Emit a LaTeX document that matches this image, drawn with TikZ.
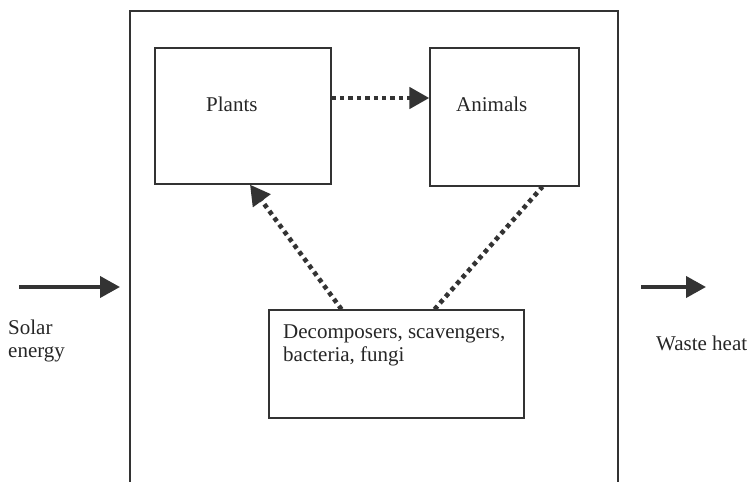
\documentclass[tikz,border=0pt]{standalone}
\usepackage{fontspec}
\setmainfont{Liberation Serif}
\usetikzlibrary{arrows.meta}

\begin{document}
\begin{tikzpicture}[x=1pt,y=-1pt,
  box/.style={draw=black!80,line width=1.3pt,inner sep=0pt},
  flow/.style={-{Triangle[length=20pt,width=21pt]},draw=black!80,line width=4.6pt,dash pattern=on 4.4pt off 4pt},
  link/.style={draw=black!80,line width=4.6pt,dash pattern=on 4.4pt off 4pt},
  energy/.style={-{Triangle[length=20pt,width=21pt]},draw=black!80,line width=4pt},
  label/.style={font=\fontsize{21}{23}\selectfont,text=black!85,inner sep=0pt,anchor=base west,align=left},
]
\useasboundingbox (0,0) rectangle (748,482);
\draw[black!80,line width=1.3pt] (130,482)--(130,11)--(618,11)--(618,482);
\node[box,minimum width=176pt,minimum height=136pt] (plants) at (243,116) {};
\node[box,minimum width=149pt,minimum height=138pt] (animals) at (504.5,117) {};
\node[box,minimum width=255pt,minimum height=108pt] (decomp) at (396.5,364) {};
\node[label] (plantstxt) at (206,111) {Plants};
\node[label] (animalstxt) at (456,111) {Animals};
\node[label] (decomptxt) at (283,361) {Decomposers, scavengers,\\bacteria, fungi};
\draw[flow] ([yshift=18pt]plants.east) -- ([yshift=19pt]animals.west);
\draw[flow] ([xshift=-55pt]decomp.north) -- ([xshift=7pt]plants.south);
\draw[link] ([xshift=38pt]decomp.north) -- ([xshift=38pt]animals.south);
\coordinate (sunin) at (19,287);
\coordinate (sunout) at (120,287);
\coordinate (heatin) at (641,287);
\coordinate (heatout) at (706,287);
\draw[energy] (sunin) -- (sunout);
\draw[energy] (heatin) -- (heatout);
\node[label] (solar) at (8,357) {Solar\\energy};
\node[label] (waste) at (656,350) {Waste heat};
\end{tikzpicture}
\end{document}
